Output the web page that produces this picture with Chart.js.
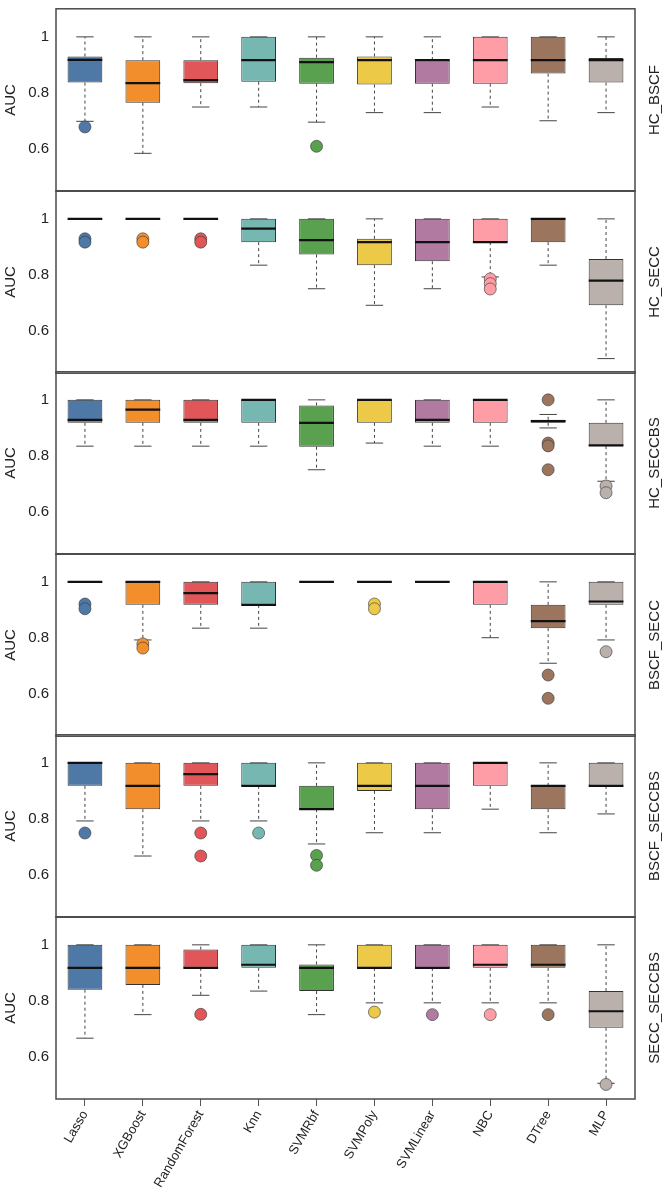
<!DOCTYPE html>
<html>
<head>
<meta charset="utf-8">
<script src="https://cdn.jsdelivr.net/npm/chart.js@4.4.1/dist/chart.umd.min.js"></script>
<style>
  html, body { margin: 0; padding: 0; background: #fff; }
  #wrap { position: relative; width: 672px; height: 1194px; overflow: hidden; background: #fff; }
  #wrap canvas { position: absolute; left: 0; }
</style>
</head>
<body>
<div id="wrap"></div>
<script>
// ---- data ----
const models = ["Lasso", "XGBoost", "RandomForest", "Knn", "SVMRbf", "SVMPoly", "SVMLinear", "NBC", "DTree", "MLP"];
const panelNames = ["HC_BSCF", "HC_SECC", "HC_SECCBS", "BSCF_SECC", "BSCF_SECCBS", "SECC_SECCBS"];
const boxColors = ["#4E79A7", "#F28E2B", "#E15759", "#76B7B2", "#59A14F", "#EDC948", "#B07AA1", "#FF9DA7", "#9C755F", "#BAB0AC"];
const yTicks = [0.6, 0.8, 1];

// one row per panel, one value per model
const whiskerLow = [
  [0.699, 0.585, 0.750, 0.750, 0.696, 0.730, 0.730, 0.750, 0.701, 0.730],
  [1.000, 1.000, 1.000, 0.835, 0.751, 0.692, 0.751, 0.793, 0.835, 0.502],
  [0.835, 0.835, 0.835, 0.835, 0.751, 0.846, 0.835, 0.835, 0.900, 0.710],
  [1.000, 0.793, 0.835, 0.835, 1.000, 1.000, 1.000, 0.801, 0.710, 0.793],
  [0.793, 0.668, 0.793, 0.793, 0.711, 0.751, 0.751, 0.835, 0.751, 0.818],
  [0.667, 0.751, 0.820, 0.835, 0.751, 0.793, 0.793, 0.793, 0.793, 0.506]
];
const quart1 = [
  [0.837, 0.765, 0.835, 0.840, 0.833, 0.830, 0.833, 0.833, 0.869, 0.837],
  [1.000, 1.000, 1.000, 0.917, 0.873, 0.835, 0.849, 0.917, 0.917, 0.692],
  [0.918, 0.918, 0.918, 0.918, 0.833, 0.918, 0.918, 0.918, 0.918, 0.835],
  [1.000, 0.918, 0.918, 0.918, 1.000, 1.000, 1.000, 0.918, 0.835, 0.918],
  [0.918, 0.835, 0.918, 0.918, 0.835, 0.900, 0.835, 0.918, 0.835, 0.918],
  [0.840, 0.857, 0.918, 0.918, 0.835, 0.918, 0.918, 0.918, 0.918, 0.704]
];
const medians = [
  [0.918, 0.835, 0.846, 0.917, 0.910, 0.917, 0.917, 0.917, 0.917, 0.917],
  [1.000, 1.000, 1.000, 0.965, 0.924, 0.917, 0.917, 0.917, 1.000, 0.780],
  [0.929, 0.965, 0.929, 1.000, 0.918, 1.000, 0.929, 1.000, 0.924, 0.838],
  [1.000, 1.000, 0.960, 0.918, 1.000, 1.000, 1.000, 1.000, 0.860, 0.930],
  [1.000, 0.918, 0.960, 0.918, 0.835, 0.918, 0.918, 1.000, 0.918, 0.918],
  [0.918, 0.918, 0.918, 0.929, 0.918, 0.918, 0.918, 0.929, 0.929, 0.763]
];
const quart3 = [
  [0.930, 0.917, 0.917, 1.000, 0.926, 0.930, 0.917, 1.000, 1.000, 0.925],
  [1.000, 1.000, 1.000, 1.000, 1.000, 0.929, 1.000, 1.000, 1.000, 0.857],
  [1.000, 1.000, 1.000, 1.000, 0.980, 1.000, 1.000, 1.000, 0.929, 0.918],
  [1.000, 1.000, 1.000, 1.000, 1.000, 1.000, 1.000, 1.000, 0.918, 1.000],
  [1.000, 1.000, 1.000, 1.000, 0.918, 1.000, 1.000, 1.000, 0.918, 1.000],
  [1.000, 1.000, 0.983, 1.000, 0.930, 1.000, 1.000, 1.000, 1.000, 0.835]
];
const whiskerHigh = [
  [1, 1, 1, 1, 1, 1, 1, 1, 1, 1],
  [1, 1, 1, 1, 1, 1, 1, 1, 1, 1],
  [1, 1, 1, 1, 1, 1, 1, 1, 0.948, 1],
  [1, 1, 1, 1, 1, 1, 1, 1, 1, 1],
  [1, 1, 1, 1, 1, 1, 1, 1, 1, 1],
  [1, 1, 1, 1, 1, 1, 1, 1, 1, 1]
];
// outliers: [model index, value]
const outliers = [
  [[0, 0.679], [4, 0.610]],
  [[0, 0.929], [0, 0.917], [1, 0.929], [1, 0.917], [2, 0.929], [2, 0.917], [7, 0.786], [7, 0.769], [7, 0.750]],
  [[8, 1.000], [8, 0.846], [8, 0.836], [8, 0.751], [9, 0.693], [9, 0.669]],
  [[0, 0.921], [0, 0.904], [1, 0.779], [1, 0.764], [5, 0.921], [5, 0.904], [8, 0.668], [8, 0.585], [9, 0.751]],
  [[0, 0.750], [2, 0.750], [2, 0.668], [3, 0.750], [4, 0.670], [4, 0.635]],
  [[2, 0.752], [5, 0.760], [6, 0.751], [7, 0.751], [8, 0.751], [9, 0.502]]
];

// ---- layout ----
const FONT = "'Liberation Sans', Arial, Helvetica, sans-serif";
const TEXT = "#222";
const PANEL_H = 182;     // plot height in px
const STEP = 181.5;      // distance between panel tops
const FIRST_TOP = 9.3;
const PAD = 3;
const X_AXIS_H = 96;     // room for the rotated model names

Chart.defaults.font.family = FONT;
Chart.defaults.color = TEXT;

// whiskers, medians, frame and strip label for one panel
function boxPlugin(p) {
  return {
    id: "boxplot" + p,
    beforeDatasetsDraw(chart) {
      const { ctx, scales: { x, y } } = chart;
      const bars = chart.getDatasetMeta(0).data;
      ctx.save();
      ctx.strokeStyle = "#444";
      ctx.lineWidth = 1;
      models.forEach((m, i) => {
        const cx = x.getPixelForValue(i);
        const cap = bars[i].width / 4;
        const yLo = y.getPixelForValue(whiskerLow[p][i]);
        const yQ1 = y.getPixelForValue(quart1[p][i]);
        const yQ3 = y.getPixelForValue(quart3[p][i]);
        const yHi = y.getPixelForValue(whiskerHigh[p][i]);
        ctx.setLineDash([3, 3]);
        ctx.beginPath();
        ctx.moveTo(cx, yQ3); ctx.lineTo(cx, yHi);
        ctx.moveTo(cx, yQ1); ctx.lineTo(cx, yLo);
        ctx.stroke();
        ctx.setLineDash([]);
        ctx.beginPath();
        ctx.moveTo(cx - cap, yHi); ctx.lineTo(cx + cap, yHi);
        ctx.moveTo(cx - cap, yLo); ctx.lineTo(cx + cap, yLo);
        ctx.stroke();
      });
      ctx.restore();
    },
    afterDatasetDraw(chart, args) {
      if (args.index !== 0) return;
      const { ctx, scales: { x, y } } = chart;
      const bars = chart.getDatasetMeta(0).data;
      ctx.save();
      ctx.strokeStyle = "#111";
      ctx.lineWidth = 2.2;
      models.forEach((m, i) => {
        const cx = x.getPixelForValue(i);
        const half = bars[i].width / 2;
        const ym = y.getPixelForValue(medians[p][i]);
        ctx.beginPath();
        ctx.moveTo(cx - half, ym); ctx.lineTo(cx + half, ym);
        ctx.stroke();
      });
      ctx.restore();
    },
    afterDraw(chart) {
      const { ctx, chartArea: a } = chart;
      ctx.save();
      ctx.strokeStyle = "#4a4a4a";
      ctx.lineWidth = 1.5;
      ctx.strokeRect(a.left, a.top, a.right - a.left, a.bottom - a.top);
      // panel name on the right
      ctx.translate(655, (a.top + a.bottom) / 2);
      ctx.rotate(-Math.PI / 2);
      ctx.fillStyle = TEXT;
      ctx.font = "15px " + FONT;
      ctx.textAlign = "center";
      ctx.textBaseline = "middle";
      ctx.fillText(panelNames[p], 0, 0);
      ctx.restore();
    }
  };
}

function makeChart(cv, p, last) {
  return new Chart(cv, {
    type: "bar",
    data: {
      labels: models,
      datasets: [
        {
          type: "bar",
          order: 1,
          data: models.map((m, i) => [quart1[p][i], quart3[p][i]]),
          backgroundColor: boxColors,
          borderColor: "#333",
          borderWidth: 1,
          borderSkipped: false,
          barPercentage: 0.6,
          categoryPercentage: 1.0
        },
        {
          type: "scatter",
          order: 0,
          data: outliers[p].map(([i, v]) => ({ x: models[i], y: v })),
          pointRadius: 6,
          pointBackgroundColor: outliers[p].map(([i]) => boxColors[i]),
          pointBorderColor: "rgba(50,50,50,0.75)",
          pointBorderWidth: 0.8
        }
      ]
    },
    options: {
      responsive: false,
      animation: false,
      devicePixelRatio: 1,
      layout: { padding: { top: PAD, bottom: last ? 0 : PAD, left: 0, right: 37 } },
      plugins: { legend: { display: false }, tooltip: { enabled: false } },
      scales: {
        x: {
          display: last,
          offset: true,
          grid: { display: true, drawOnChartArea: false, drawTicks: true, tickLength: 7, color: "#555", offset: false },
          border: { display: false },
          ticks: { font: { size: 13 }, color: TEXT, maxRotation: 60, minRotation: 60, padding: 2, autoSkip: false },
          afterFit: s => {
            s.height = last ? X_AXIS_H : 0;
            s.paddingLeft = 0;
            s.paddingRight = 0;
          }
        },
        y: {
          min: 0.45,
          max: 1.1,
          grid: { display: false, drawTicks: false },
          border: { display: false },
          afterBuildTicks: s => { s.ticks = yTicks.map(v => ({ value: v })); },
          ticks: { font: { size: 15 }, color: TEXT, padding: 7, callback: v => String(v) },
          title: { display: true, text: "AUC", font: { size: 15 }, color: TEXT, padding: { top: 2, bottom: 0 } },
          afterFit: s => {
            s.width = 56;
            s.paddingTop = 0;
            s.paddingBottom = 0;
          }
        }
      }
    },
    plugins: [boxPlugin(p)]
  });
}

const wrap = document.getElementById("wrap");

panelNames.forEach((name, p) => {
  const last = p === panelNames.length - 1;
  const wantTop = FIRST_TOP + STEP * p;        // plot top, page px
  let top = Math.round(wantTop) - PAD;
  let h = PAD + PANEL_H + (last ? X_AXIS_H : PAD);

  const cv = document.createElement("canvas");
  wrap.appendChild(cv);
  let chart = null;
  // the layout keeps a little extra room round the plot; measure it and move the canvas
  for (let pass = 0; pass < 3; pass++) {
    if (chart) chart.destroy();
    cv.width = 672;
    cv.height = h;
    cv.style.top = top + "px";
    chart = makeChart(cv, p, last);
    const a = chart.chartArea;
    const dTop = Math.round(wantTop) - (top + a.top);
    const dH = PANEL_H - (a.bottom - a.top);
    if (Math.abs(dTop) < 0.5 && Math.abs(dH) < 0.5) break;
    top += dTop;
    h += Math.round(dH);
  }
});
</script>
</body>
</html>
